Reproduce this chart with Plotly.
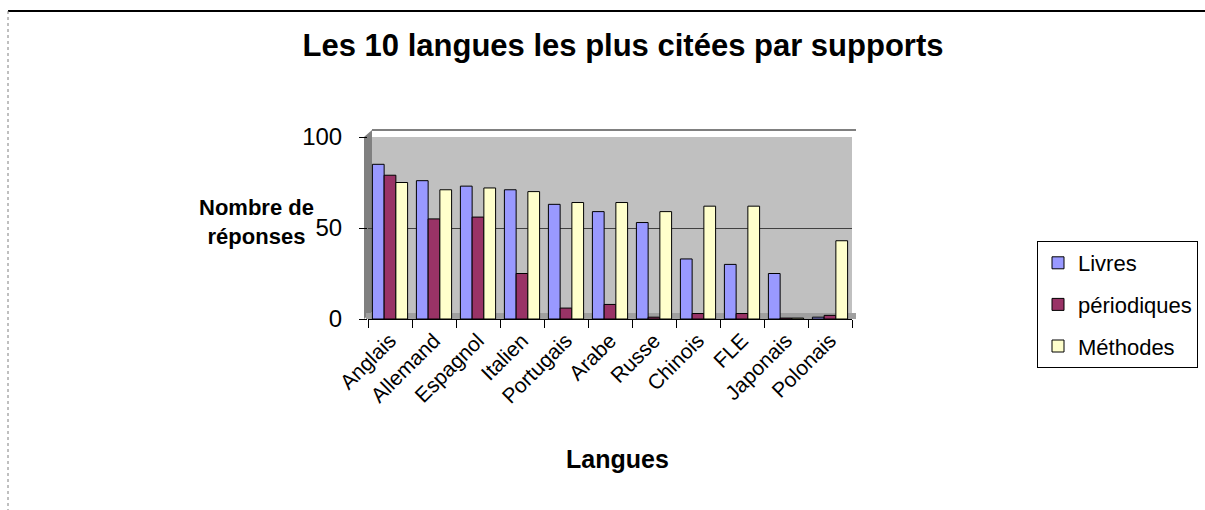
import plotly.graph_objects as go

categories = ["Anglais", "Allemand", "Espagnol", "Italien", "Portugais", "Arabe",
              "Russe", "Chinois", "FLE", "Japonais", "Polonais"]
livres = [85, 76, 73, 71, 63, 59, 53, 33, 30, 25, 1]
periodiques = [79, 55, 56, 25, 6, 8, 1, 3, 3, 0.5, 2]
methodes = [75, 71, 72, 70, 64, 64, 59, 62, 62, 0.5, 43]
y_ticks = [0, 50, 100]

W, H = 1205, 510
L, R, T, B = 368, 852, 137, 319


def px(x):
    return (x - L) / (R - L)


def py(y):
    return (B - y) / (B - T)


fig = go.Figure()
series = [("Livres", livres, "#9999FF"),
          ("périodiques", periodiques, "#993366"),
          ("Méthodes", methodes, "#FFFFCC")]
for name, vals, col in series:
    fig.add_trace(go.Bar(
        x=categories, y=vals, name=name, legendgroup=name,
        marker=dict(color=col, line=dict(color="#000000", width=1)),
    ))

shapes = [
    # outer frame
    dict(type="line", xref="paper", yref="paper", x0=px(8), x1=px(1205), y0=py(11), y1=py(11),
         line=dict(color="#000000", width=2)),
    dict(type="line", xref="paper", yref="paper", x0=px(8), x1=px(8), y0=py(11), y1=py(510),
         line=dict(color="#808080", width=1, dash="dot")),
    # left wall
    dict(type="path", xref="paper", yref="paper",
         path=f"M {px(364)} {py(319)} L {px(364)} {py(137)} L {px(372)} {py(130)} L {px(372)} {py(312)} Z",
         fillcolor="#808080", line=dict(width=0), layer="below"),
    # back wall top edge
    dict(type="line", xref="paper", yref="paper", x0=px(372), x1=px(856), y0=py(130), y1=py(130),
         line=dict(color="#000000", width=1)),
    # floor
    dict(type="rect", xref="paper", yref="paper", x0=px(366), x1=px(856), y0=py(319), y1=py(313),
         fillcolor="#A0A0A0", line=dict(width=0), layer="below"),
]

fig.update_layout(
    width=W, height=H,
    margin=dict(l=L, r=W - R, t=T, b=H - B, pad=0),
    paper_bgcolor="#FFFFFF", plot_bgcolor="#C0C0C0",
    font=dict(family="Liberation Sans, Arial, sans-serif", color="#000000"),
    title=dict(text="<b>Les 10 langues les plus citées par supports</b>",
               x=623 / W, xref="container", xanchor="center",
               y=1 - 45 / H, yref="container", yanchor="middle",
               font=dict(size=31, color="#000000")),
    barmode="group", bargap=0.2, bargroupgap=0.0,
    showlegend=True,
    legend=dict(xref="container", yref="container", x=1037 / W, y=1 - 241 / H,
                xanchor="left", yanchor="top", bordercolor="#000000", borderwidth=1,
                bgcolor="#FFFFFF", font=dict(size=22), tracegroupgap=10,
                traceorder="grouped", itemwidth=30),
    xaxis=dict(showgrid=False, showline=True, linecolor="#000000", ticks="outside",
               ticklen=8, tickcolor="#000000", tickangle=-45,
               tickfont=dict(size=21), tickson="boundaries"),
    yaxis=dict(range=[0, 100], tickvals=y_ticks, showgrid=True, gridcolor="#404040",
               gridwidth=1, zeroline=False, showline=False, ticks="outside", ticklen=8,
               tickcolor="#000000", tickfont=dict(size=24), ticklabelstandoff=12),
    shapes=shapes,
    annotations=[
        dict(text="<b>Nombre de<br>réponses</b>", xref="paper", yref="paper",
             x=px(256), y=py(222), xanchor="center", yanchor="middle",
             showarrow=False, font=dict(size=22), align="center"),
        dict(text="<b>Langues</b>", xref="paper", yref="paper",
             x=px(617), y=py(459), xanchor="center", yanchor="middle",
             showarrow=False, font=dict(size=25)),
    ],
)

fig.write_html("out.html", config={"displayModeBar": False},
               post_script="document.body.style.margin='0';document.body.style.overflow='hidden';")
